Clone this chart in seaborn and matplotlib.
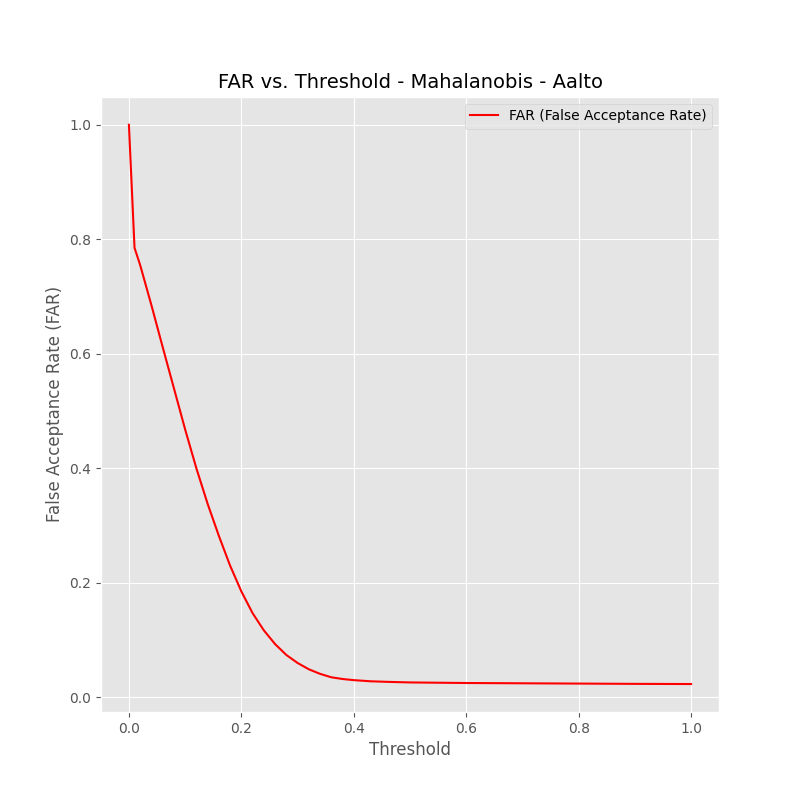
import matplotlib
matplotlib.use("Agg")
import matplotlib.pyplot as plt
import seaborn as sns
import pandas as pd

# Values
thresholds = [0.0, 0.01, 0.02, 0.04, 0.06, 0.08, 0.10, 0.12, 0.14, 0.16, 0.18,
              0.20, 0.22, 0.24, 0.26, 0.28, 0.30, 0.32, 0.34, 0.36, 0.38, 0.40,
              0.43, 0.46, 0.50, 0.55, 0.60, 0.70, 0.80, 0.90, 1.00]
far = [1.0, 0.785, 0.755, 0.685, 0.612, 0.540, 0.468, 0.400, 0.338, 0.282, 0.230,
       0.185, 0.147, 0.117, 0.093, 0.074, 0.060, 0.049, 0.041, 0.035, 0.032, 0.030,
       0.028, 0.027, 0.026, 0.0255, 0.025, 0.0245, 0.024, 0.0235, 0.0232]

df = pd.DataFrame({"Threshold": thresholds, "FAR": far})

plt.style.use("ggplot")
fig = plt.figure(figsize=(8, 8), dpi=100)
ax = fig.add_axes([0.126, 0.11, 0.773, 0.769])

sns.lineplot(data=df, x="Threshold", y="FAR", color="red",
             label="FAR (False Acceptance Rate)", ax=ax)

ax.set_title("FAR vs. Threshold - Mahalanobis - Aalto", color="black", fontsize=14)
ax.set_xlabel("Threshold")
ax.set_ylabel("False Acceptance Rate (FAR)")
ax.set_xticks([0.0, 0.2, 0.4, 0.6, 0.8, 1.0])
ax.set_yticks([0.0, 0.2, 0.4, 0.6, 0.8, 1.0])
ax.legend(loc="upper right")

fig.savefig("out.png", dpi=100)
